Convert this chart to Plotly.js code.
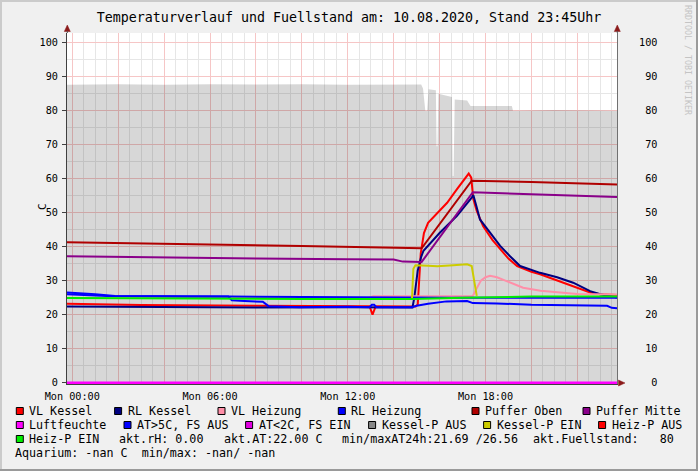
<!DOCTYPE html>
<html><head><meta charset="utf-8">
<script src="https://cdn.plot.ly/plotly-3.0.1.min.js"></script>
<style>html,body{margin:0;padding:0;background:#f0f0f0;}#chart{width:698px;height:471px;}</style>
</head><body><div id="chart"></div>
<script>
// ---------- data (hours since Mon 00:00, values in C / %) ----------
const fuellT = [-0.23, 2, 4, 6, 8, 10, 12, 14, 15.2, 15.28, 15.38, 15.46, 15.52, 15.84, 15.87, 15.91, 15.95, 16.54, 16.57, 16.61, 16.66, 17.2, 17.35, 19.15, 19.2, 21, 23.73];
const fuellV = [87.6, 87.8, 87.6, 87.8, 87.7, 87.8, 87.6, 87.7, 87.7, 86.5, 80, 80, 86.3, 86.0, 69.5, 69.5, 85.0, 84.0, 60.8, 60.8, 83.3, 83.0, 81.4, 81.4, 80.0, 80.2, 80.0];

const vlKesselT = [-0.23, 3, 8, 12.95, 13.08, 13.22, 14.95, 15.05, 15.18, 15.32, 15.5, 15.9, 16.33, 16.76, 17.05, 17.27, 17.38, 17.47, 17.62, 17.9, 18.3, 18.64, 19.0, 19.38, 20.0, 20.38, 21.1, 21.82, 22.56, 23.0, 23.73];
const vlKesselV = [23.2, 22.8, 22.6, 22.5, 20.0, 22.5, 22.4, 23, 38, 44, 47, 50, 52.9, 56.9, 59.5, 61.5, 60.3, 54, 50.5, 46, 42, 39.2, 36.5, 34.3, 32.6, 31.9, 30.1, 28.4, 26.5, 26.0, 25.8];

const rlKesselT = [-0.23, 3, 8, 12, 14.82, 14.9, 15.05, 15.2, 15.3, 16.0, 16.75, 17.4, 17.47, 17.6, 17.76, 18.2, 18.64, 19.07, 19.51, 20.38, 21.12, 21.82, 22.56, 23.0, 23.73];
const rlKesselV = [22.4, 22.2, 22.1, 22.2, 22.1, 25, 33, 37, 38.8, 44.0, 49.0, 54.4, 55.2, 52, 48, 44.1, 40.2, 37.2, 34.3, 32.3, 31.0, 29.4, 26.9, 26.0, 25.0];

const vlHeizT = [-0.23, 6, 12.9, 13.1, 17.45, 17.6, 17.8, 18.0, 18.2, 18.5, 18.93, 19.64, 20.4, 21.12, 22.0, 23.73];
const vlHeizV = [24.9, 24.9, 25.0, 25.4, 25.5, 27.5, 30.0, 31.0, 31.4, 31.0, 29.9, 27.9, 27.0, 26.5, 26.1, 25.9];

const rlHeizT = [-0.23, 1.5, 6.9, 10, 15.5, 16.5, 23.73];
const rlHeizV = [26.0, 25.5, 25.3, 25.2, 25.2, 25.0, 25.0];

const pufferObenT = [-0.23, 5, 10, 15.22, 17.4, 20, 23.73];
const pufferObenV = [41.3, 40.8, 40.2, 39.5, 59.4, 59.0, 58.3];

const pufferMitteT = [-0.23, 4, 8, 12, 14.0, 14.4, 15.22, 17.45, 23.73];
const pufferMitteV = [37.2, 36.8, 36.5, 36.3, 36.2, 35.6, 35.5, 56.0, 54.6];

const luftT = [-0.23, 23.73];
const luftV = [0, 0];

const atT = [-0.23, 0.5, 1.0, 1.86, 3, 5, 6.8, 6.95, 7.5, 8.3, 8.55, 9.9, 12, 12.95, 13.05, 13.15, 13.25, 14.8, 15.0, 15.5, 16.3, 17.2, 17.45, 18.5, 20, 22, 23.3, 23.5, 23.73];
const atV = [26.5, 26.3, 26.0, 25.5, 25.4, 25.3, 25.3, 24.2, 24.0, 23.8, 22.5, 22.2, 22.3, 22.2, 22.9, 22.9, 22.2, 22.2, 22.6, 23.2, 23.9, 24.0, 23.4, 23.3, 22.9, 22.7, 22.6, 22.0, 21.9];

const kesselPEinT = [14.75, 14.8, 14.86, 14.95, 15.5, 15.9, 16.6, 17.2, 17.4, 17.5, 17.62];
const kesselPEinV = [24.7, 24.8, 33.5, 34.5, 34.4, 34.2, 34.5, 34.8, 34.3, 30.0, 25.5];

const heizPEinT = [-0.23, 5, 10, 14.8, 17, 20, 23.73];
const heizPEinV = [24.9, 24.7, 24.6, 24.6, 25.0, 25.3, 25.3];

const xTickVals = [0, 2, 4, 6, 8, 10, 12, 14, 16, 18, 20, 22];
const xTickText = ['Mon 00:00', '', '', 'Mon 06:00', '', '', 'Mon 12:00', '', '', 'Mon 18:00', '', ''];
const yTickVals = [0, 10, 20, 30, 40, 50, 60, 70, 80, 90, 100];

const titleText = 'Temperaturverlauf und Fuellstand am: 10.08.2020, Stand 23:45Uhr';
const legendLabels = ['VL Kessel', 'RL Kessel', 'VL Heizung', 'RL Heizung', 'Puffer Oben', 'Puffer Mitte',
  'Luftfeuchte', 'AT>5C, FS AUS', 'AT<2C, FS EIN', 'Kessel-P AUS', 'Kessel-P EIN', 'Heiz-P AUS', 'Heiz-P EIN'];
const infoTexts = ['akt.rH: 0.00', 'akt.AT:22.00 C', 'min/maxAT24h:21.69 /26.56', 'akt.Fuellstand:   80'];
const aquariumText = 'Aquarium: -nan C  min/max: -nan/ -nan';

// ---------- styles / layout positions ----------
const colors = {
  vlKessel: '#ff0000', rlKessel: '#000080', vlHeiz: '#ff8fa8', rlHeiz: '#0000ff',
  pOben: '#b00000', pMitte: '#8a008a', luft: '#ff00ff', atHigh: '#0000ff', atLow: '#e000e0',
  kPAus: '#888888', kPEin: '#cccc00', hPAus: '#ff0000', hPEin: '#00ee00'
};
const legendColors = [colors.vlKessel, colors.rlKessel, colors.vlHeiz, colors.rlHeiz, colors.pOben, colors.pMitte,
  colors.luft, colors.atHigh, colors.atLow, colors.kPAus, colors.kPEin, colors.hPAus, colors.hPEin];
const legendTextX = [30, 128.3, 231.7, 352, 485.7, 596.7, 30, 137.7, 259.3, 382.3, 497.3, 612.3, 30];
const legendRowY = [411, 411, 411, 411, 411, 411, 425, 425, 425, 425, 425, 425, 439];
const infoX = [120, 225, 342.7, 534];

const W = 698, H = 471, L = 67, T = 33, PW = 550, PH = 351;
const px = x => (x - L) / PW;
const py = y => (T + PH - y) / PH;
const nb = s => s.replace(/ /g, '\u00a0');
const mono = 'DejaVu Sans Mono';

function line(xs, ys, color, w, axis) {
  return {x: xs, y: ys, type: 'scatter', mode: 'lines', line: {color: color, width: w || 2},
    yaxis: axis || 'y', hoverinfo: 'skip', showlegend: false};
}

const traces = [
  {x: fuellT, y: fuellV, type: 'scatter', mode: 'lines', fill: 'tozeroy', fillcolor: 'rgba(0,0,0,0.155)',
   line: {width: 0, color: 'rgba(0,0,0,0)'}, hoverinfo: 'skip', showlegend: false},
  line(vlKesselT, vlKesselV, colors.vlKessel),
  line(rlKesselT, rlKesselV, colors.rlKessel),
  line(vlHeizT, vlHeizV, colors.vlHeiz),
  line(rlHeizT, rlHeizV, colors.rlHeiz),
  line(pufferObenT, pufferObenV, colors.pOben),
  line(pufferMitteT, pufferMitteV, colors.pMitte),
  line(atT, atV, colors.atHigh),
  line(kesselPEinT, kesselPEinV, colors.kPEin),
  line(heizPEinT, heizPEinV, colors.hPEin),
  line(luftT, luftV, colors.luft, 2.5, 'y2')
];

const yr = [-0.4, 102.84];
const shapes = [], annotations = [];

// frame
shapes.push({type: 'rect', xref: 'paper', yref: 'paper', x0: px(0), x1: px(2), y0: py(0), y1: py(H), fillcolor: '#cbcbcb', line: {width: 0}, layer: 'below'});
shapes.push({type: 'rect', xref: 'paper', yref: 'paper', x0: px(0), x1: px(W), y0: py(0), y1: py(2), fillcolor: '#cbcbcb', line: {width: 0}, layer: 'below'});
shapes.push({type: 'rect', xref: 'paper', yref: 'paper', x0: px(W - 2), x1: px(W), y0: py(0), y1: py(H), fillcolor: '#9a9a9a', line: {width: 0}, layer: 'below'});
shapes.push({type: 'rect', xref: 'paper', yref: 'paper', x0: px(0), x1: px(W), y0: py(H - 2), y1: py(H), fillcolor: '#9a9a9a', line: {width: 0}, layer: 'below'});

// arrows
function tri(p1, p2, p3) {
  return {type: 'path', xref: 'paper', yref: 'paper',
    path: `M ${px(p1[0])} ${py(p1[1])} L ${px(p2[0])} ${py(p2[1])} L ${px(p3[0])} ${py(p3[1])} Z`,
    fillcolor: '#8b1a1a', line: {color: '#8b1a1a', width: 0.5}, layer: 'above'};
}
shapes.push(tri([67.3, 25], [64.3, 31.5], [70.3, 31.5]));
shapes.push(tri([617.3, 25], [614.3, 31.5], [620.3, 31.5]));
shapes.push(tri([625, 383], [618.5, 380], [618.5, 386]));
shapes.push({type: 'line', xref: 'paper', yref: 'paper', x0: px(67.3), x1: px(67.3), y0: py(31), y1: py(33), line: {color: '#505050', width: 1}});
shapes.push({type: 'line', xref: 'paper', yref: 'paper', x0: px(617.3), x1: px(617.3), y0: py(31), y1: py(33), line: {color: '#505050', width: 1}});

// legend
legendLabels.forEach((lab, i) => {
  const sx = legendTextX[i] - 13.7, cy = legendRowY[i];
  shapes.push({type: 'rect', xref: 'paper', yref: 'paper', x0: px(sx), x1: px(sx + 7), y0: py(cy + 3.5), y1: py(cy - 3.5),
    fillcolor: legendColors[i], line: {color: '#000000', width: 1}});
  annotations.push({xref: 'paper', yref: 'paper', x: px(legendTextX[i] - 0.7), y: py(cy), xanchor: 'left', yanchor: 'middle',
    text: nb(lab), showarrow: false, borderpad: 0, borderwidth: 0, font: {family: mono, size: 11.7, color: '#000'}});
});
infoTexts.forEach((t, i) => {
  annotations.push({xref: 'paper', yref: 'paper', x: px(infoX[i] - 0.7), y: py(439), xanchor: 'left', yanchor: 'middle',
    text: nb(t), showarrow: false, borderpad: 0, borderwidth: 0, font: {family: mono, size: 11.7, color: '#000'}});
});
annotations.push({xref: 'paper', yref: 'paper', x: px(15.3), y: py(453), xanchor: 'left', yanchor: 'middle',
  text: nb(aquariumText), showarrow: false, borderpad: 0, borderwidth: 0, font: {family: mono, size: 11.7, color: '#000'}});

// y label and watermark
annotations.push({xref: 'paper', yref: 'paper', x: px(42), y: py(207), xanchor: 'center', yanchor: 'middle', textangle: -90,
  text: 'C', showarrow: false, font: {family: mono, size: 11, color: '#000'}});
annotations.push({xref: 'paper', yref: 'paper', x: px(688), y: py(60), xanchor: 'center', yanchor: 'middle', textangle: 90,
  text: nb('RRDTOOL / TOBI OETIKER'), showarrow: false, font: {family: mono, size: 8.3, color: '#c4c4c4'}});

const layout = {
  width: W, height: H,
  margin: {l: L, r: W - L - PW, t: T, b: H - T - PH, pad: 0},
  paper_bgcolor: '#f0f0f0', plot_bgcolor: '#ffffff',
  showlegend: false,
  title: {text: titleText, font: {family: mono, size: 13.3, color: '#000'}, xref: 'container', x: 0.5, xanchor: 'center',
    yref: 'container', y: 1 - 17 / H, yanchor: 'middle'},
  xaxis: {range: [-0.23, 23.73], tickmode: 'array', tickvals: xTickVals, ticktext: xTickText,
    showgrid: true, gridcolor: '#f6c6c6', gridwidth: 1, zeroline: false,
    minor: {dtick: 0.5, tick0: 0, showgrid: true, gridcolor: '#e6e6e6', gridwidth: 1, ticks: ''},
    showline: true, linecolor: '#404040', linewidth: 1, ticks: '',
    tickfont: {family: mono, size: 10.2, color: '#000'}, ticklabelstandoff: 3},
  yaxis: {range: yr, tickmode: 'array', tickvals: yTickVals, showgrid: true, gridcolor: '#f6c6c6', gridwidth: 1, zeroline: false,
    minor: {dtick: 5, tick0: 0, showgrid: true, gridcolor: '#e6e6e6', gridwidth: 1, ticks: ''},
    showline: true, linecolor: '#404040', linewidth: 1, ticks: 'outside', ticklen: 4, tickcolor: '#404040',
    tickfont: {family: mono, size: 10.2, color: '#000'}, ticklabelstandoff: 2},
  yaxis2: {range: yr, overlaying: 'y', side: 'right', tickmode: 'array', tickvals: yTickVals,
    ticktext: yTickVals.map(v => String(v).padStart(3, '\u00a0')),
    showgrid: false, zeroline: false, showline: true, linecolor: '#707070', linewidth: 1, ticks: '',
    tickfont: {family: mono, size: 10.2, color: '#000'}, ticklabelstandoff: 19},
  shapes: shapes, annotations: annotations
};

Plotly.newPlot('chart', traces, layout, {displayModeBar: false, staticPlot: true});
</script>
</body></html>
